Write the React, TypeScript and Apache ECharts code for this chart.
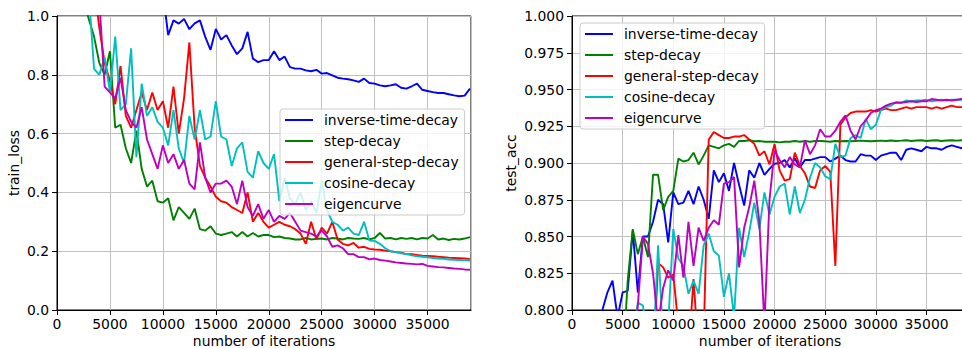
import React, { useEffect, useRef } from 'react';
import * as echarts from 'echarts';

const iterations = [
  2500, 3000, 3500, 4000, 4500, 5000, 5500, 6000, 6500, 7000,
  7500, 8000, 8500, 9000, 9500, 10000, 10500, 11000, 11500, 12000,
  12500, 13000, 13500, 14000, 14500, 15000, 15500, 16000, 16500, 17000,
  17500, 18000, 18500, 19000, 19500, 20000, 20500, 21000, 21500, 22000,
  22500, 23000, 23500, 24000, 24500, 25000, 25500, 26000, 26500, 27000,
  27500, 28000, 28500, 29000, 29500, 30000, 30500, 31000, 31500, 32000,
  32500, 33000, 33500, 34000, 34500, 35000, 35500, 36000, 36500, 37000,
  37500, 38000, 38500, 39000,
];

const seriesNames = ['inverse-time-decay', 'step-decay', 'general-step-decay', 'cosine-decay', 'eigencurve'];
const seriesColors = ['#0000ff', '#008000', '#ff0000', '#00bfbf', '#bf00bf'];

// train_loss
const lossInverseTime = [
  2.0, 1.9, 1.8, 1.7, 1.6, 1.5, 1.45, 1.4, 1.35, 1.3,
  1.25, 1.2, 1.17, 1.14, 1.11, 1.08, 0.935, 0.985, 0.974, 0.99,
  0.955, 0.975, 0.985, 0.929, 0.885, 0.956, 0.92, 0.935, 0.9, 0.87,
  0.89, 0.946, 0.855, 0.843, 0.85, 0.85, 0.88, 0.85, 0.862, 0.826,
  0.821, 0.821, 0.815, 0.812, 0.817, 0.804, 0.806, 0.798, 0.79, 0.787,
  0.785, 0.781, 0.776, 0.787, 0.772, 0.77, 0.764, 0.761, 0.764, 0.768,
  0.756, 0.753, 0.761, 0.77, 0.749, 0.745, 0.741, 0.738, 0.738, 0.734,
  0.73, 0.727, 0.729, 0.753,
];
const lossStep = [
  1.05, 0.99, 0.93, 0.84, 0.8, 0.88, 0.62, 0.63, 0.55, 0.5,
  0.61, 0.48, 0.42, 0.44, 0.37, 0.365, 0.38, 0.305, 0.35, 0.33,
  0.31, 0.345, 0.275, 0.27, 0.285, 0.26, 0.255, 0.26, 0.265, 0.25,
  0.265, 0.25, 0.262, 0.25, 0.255, 0.255, 0.248, 0.25, 0.245, 0.243,
  0.24, 0.24, 0.245, 0.24, 0.242, 0.243, 0.24, 0.245, 0.243, 0.24,
  0.245, 0.243, 0.242, 0.245, 0.24, 0.245, 0.262, 0.243, 0.245, 0.24,
  0.245, 0.242, 0.245, 0.24, 0.245, 0.243, 0.255, 0.24, 0.243, 0.238,
  0.242, 0.24, 0.243, 0.248,
];
const lossGeneralStep = [
  1.4, 1.2, 1.1, 0.96, 0.84, 0.78, 0.7, 0.83, 0.66, 0.62,
  0.68, 0.74, 0.68, 0.74, 0.68, 0.71, 0.62, 0.76, 0.6, 0.72,
  0.91, 0.62, 0.49, 0.45, 0.42, 0.385, 0.37, 0.365, 0.35, 0.34,
  0.33, 0.4, 0.3, 0.33, 0.3, 0.28, 0.29, 0.3, 0.29, 0.285,
  0.275, 0.26, 0.225, 0.3, 0.24, 0.28, 0.26, 0.3, 0.24, 0.225,
  0.22, 0.228, 0.212, 0.215, 0.208, 0.206, 0.205, 0.202, 0.2, 0.197,
  0.195, 0.19, 0.19, 0.187, 0.185, 0.184, 0.183, 0.181, 0.18, 0.178,
  0.177, 0.176, 0.175, 0.173,
];
const lossCosine = [
  1.3, 1.08, 0.82, 0.8, 0.86, 0.74, 0.93, 0.68, 0.7, 0.89,
  0.52, 0.77, 0.66, 0.69, 0.64, 0.62, 0.56, 0.68, 0.55, 0.5,
  0.66, 0.58, 0.68, 0.58, 0.59, 0.71, 0.59, 0.58, 0.49, 0.55,
  0.57, 0.47, 0.45, 0.54, 0.5, 0.48, 0.53, 0.37, 0.45, 0.38,
  0.36, 0.4, 0.34, 0.37, 0.33, 0.44, 0.34, 0.3, 0.29, 0.27,
  0.28, 0.26, 0.255, 0.3, 0.236, 0.235, 0.225, 0.21, 0.2, 0.197,
  0.193, 0.19, 0.186, 0.183, 0.181, 0.179, 0.177, 0.175, 0.174, 0.172,
  0.171, 0.17, 0.169, 0.168,
];
const lossEigen = [
  1.6, 1.4, 1.2, 1.05, 0.76, 0.74, 0.72, 0.79, 0.68, 0.64,
  0.62, 0.69, 0.58, 0.53, 0.48, 0.56, 0.5, 0.53, 0.48, 0.51,
  0.43, 0.41, 0.57, 0.45, 0.4, 0.43, 0.43, 0.44, 0.42, 0.36,
  0.44, 0.35, 0.32, 0.36, 0.31, 0.34, 0.3, 0.32, 0.31, 0.33,
  0.3, 0.27, 0.265, 0.26, 0.25, 0.27, 0.25, 0.215, 0.22, 0.21,
  0.19, 0.19, 0.18, 0.18, 0.172, 0.175, 0.17, 0.168, 0.165, 0.162,
  0.16, 0.158, 0.157, 0.155, 0.157, 0.15, 0.148, 0.146, 0.145, 0.143,
  0.141, 0.14, 0.138, 0.137,
];

// test_acc
const accInverseTime = [
  0.79, 0.8, 0.812, 0.82, 0.795, 0.812, 0.813, 0.854, 0.812, 0.85,
  0.85, 0.86, 0.875, 0.872, 0.846, 0.88, 0.872, 0.873, 0.881, 0.872,
  0.884, 0.875, 0.862, 0.895, 0.887, 0.893, 0.881, 0.9, 0.885, 0.871,
  0.895, 0.89, 0.9, 0.892, 0.896, 0.8995, 0.9, 0.902, 0.897, 0.903,
  0.897, 0.902, 0.902, 0.903, 0.904, 0.904, 0.901, 0.903, 0.905, 0.902,
  0.901, 0.901, 0.906, 0.905, 0.905, 0.902, 0.905, 0.906, 0.907, 0.907,
  0.902, 0.909, 0.91, 0.909, 0.908, 0.911, 0.91, 0.91, 0.909, 0.911,
  0.912, 0.911, 0.91, 0.911,
];
const accStep = [
  0.7, 0.71, 0.72, 0.73, 0.74, 0.76, 0.82, 0.855, 0.838, 0.85,
  0.836, 0.892, 0.892, 0.868, 0.877, 0.881, 0.903, 0.901, 0.902, 0.907,
  0.899, 0.905, 0.912, 0.911, 0.91, 0.912, 0.913, 0.911, 0.915, 0.915,
  0.9155, 0.9148, 0.915, 0.9145, 0.9145, 0.9145, 0.914, 0.9145, 0.9145, 0.915,
  0.9145, 0.915, 0.9145, 0.915, 0.915, 0.9148, 0.9145, 0.915, 0.9148, 0.915,
  0.9148, 0.915, 0.9152, 0.915, 0.9148, 0.915, 0.9152, 0.915, 0.9153, 0.915,
  0.9152, 0.9155, 0.915, 0.9153, 0.9155, 0.915, 0.9153, 0.9155, 0.915, 0.9153,
  0.9155, 0.9152, 0.9155, 0.9152,
];
const accGeneralStep = [
  0.6, 0.62, 0.64, 0.65, 0.66, 0.67, 0.68, 0.69, 0.7, 0.71,
  0.72, 0.76, 0.832, 0.829, 0.822, 0.824, 0.79, 0.75, 0.77, 0.821,
  0.77, 0.78, 0.916, 0.921, 0.919, 0.917, 0.917, 0.918, 0.918, 0.919,
  0.916, 0.913, 0.905, 0.908, 0.899, 0.913, 0.895, 0.888, 0.889, 0.907,
  0.898, 0.893, 0.884, 0.883, 0.895, 0.898, 0.894, 0.83, 0.926, 0.931,
  0.934, 0.935, 0.935, 0.935, 0.936, 0.935, 0.936, 0.937, 0.936, 0.936,
  0.937, 0.938, 0.937, 0.938, 0.938, 0.938, 0.937, 0.938, 0.937, 0.938,
  0.939, 0.938, 0.938, 0.938,
];
const accCosine = [
  0.7, 0.7, 0.71, 0.72, 0.73, 0.74, 0.75, 0.78, 0.805, 0.803,
  0.78, 0.77, 0.844, 0.78, 0.79, 0.855, 0.835, 0.83, 0.811, 0.82,
  0.811, 0.844, 0.852, 0.84, 0.837, 0.809, 0.825, 0.795, 0.856, 0.836,
  0.853, 0.873, 0.855, 0.88, 0.865, 0.877, 0.884, 0.886, 0.865, 0.884,
  0.866, 0.875, 0.89, 0.9, 0.897, 0.891, 0.889, 0.913, 0.904, 0.905,
  0.917, 0.919, 0.917, 0.93, 0.923, 0.926, 0.936, 0.938, 0.939, 0.9415,
  0.941, 0.9425, 0.942, 0.9425, 0.9426, 0.943, 0.942, 0.9425, 0.943, 0.9425,
  0.943, 0.943, 0.943, 0.9428,
];
const accEigen = [
  0.7, 0.7, 0.71, 0.72, 0.73, 0.74, 0.75, 0.77, 0.803, 0.85,
  0.845, 0.825, 0.79, 0.815, 0.827, 0.82, 0.851, 0.822, 0.86, 0.83,
  0.856, 0.847, 0.856, 0.861, 0.858, 0.886, 0.887, 0.8905, 0.829, 0.856,
  0.87, 0.888, 0.86, 0.79, 0.875, 0.9086, 0.902, 0.897, 0.904, 0.899,
  0.897, 0.9155, 0.906, 0.912, 0.923, 0.918, 0.918, 0.922, 0.928, 0.9324,
  0.922, 0.916, 0.925, 0.929, 0.934, 0.936, 0.937, 0.939, 0.9404, 0.941,
  0.941, 0.9415, 0.942, 0.9415, 0.942, 0.942, 0.9435, 0.943, 0.9425, 0.943,
  0.9425, 0.943, 0.9435, 0.943,
];

const lossSeries = [lossInverseTime, lossStep, lossGeneralStep, lossCosine, lossEigen];
const accSeries = [accInverseTime, accStep, accGeneralStep, accCosine, accEigen];

const X_MAX = 39100;
const X_INTERVAL = 5000;
const FONT = 'DejaVu Sans';

export default function App() {
  const ref = useRef<HTMLDivElement>(null);

  useEffect(() => {
    document.documentElement.style.overflow = 'hidden';
    document.body.style.margin = '0';
    document.body.style.overflow = 'hidden';
    if (!ref.current) return;
    const chart = echarts.init(ref.current, undefined, { renderer: 'svg' });

    const textStyle = { fontFamily: FONT, fontSize: 13.9, color: '#000' };
    const splitLine = { show: true, lineStyle: { color: '#c0c0c0', width: 1 } };
    const axisLine = { show: true, lineStyle: { color: '#000', width: 1 } };
    const axisTick = { show: true, inside: false, length: 5, lineStyle: { color: '#000', width: 1 } };

    const makeX = (gridIndex: number) => ({
      type: 'value',
      gridIndex,
      min: 0,
      max: X_MAX,
      interval: X_INTERVAL,
      name: 'number of iterations',
      nameLocation: 'middle',
      nameGap: 25,
      nameMoveOverlap: false,
      nameTextStyle: { ...textStyle, lineHeight: 12 },
      axisLine,
      axisTick,
      splitLine,
      axisLabel: {
        ...textStyle,
        margin: 7,
        lineHeight: 14,
        showMaxLabel: false,
        formatter: (v: number) => (v % X_INTERVAL === 0 ? String(v) : ''),
      },
    });

    const legendIcon = 'path://M0,0H28V2H0Z M34,0L34,2';
    const makeLegend = (left: number, top: number) => ({
      show: true,
      orient: 'vertical',
      left,
      top,
      data: seriesNames,
      icon: legendIcon,
      itemWidth: 34,
      itemHeight: 14,
      itemGap: 7,
      padding: [4, 6, 4, 5],
      selectedMode: false,
      backgroundColor: 'rgba(255,255,255,0.8)',
      borderColor: '#cccccc',
      borderWidth: 1,
      borderRadius: 3,
      textStyle: { ...textStyle, lineHeight: 14 },
    });

    const series: any[] = [];
    seriesNames.forEach((name, k) => {
      series.push({
        name,
        type: 'line',
        xAxisIndex: 0,
        yAxisIndex: 0,
        showSymbol: false,
        symbol: 'none',
        clip: true,
        color: seriesColors[k],
        lineStyle: { width: 1.9, color: seriesColors[k] },
        itemStyle: { color: seriesColors[k] },
        data: iterations.map((x, i) => [x, lossSeries[k][i]]),
      });
    });
    seriesNames.forEach((name, k) => {
      series.push({
        name,
        type: 'line',
        xAxisIndex: 1,
        yAxisIndex: 1,
        showSymbol: false,
        symbol: 'none',
        clip: true,
        color: seriesColors[k],
        lineStyle: { width: 1.9, color: seriesColors[k] },
        itemStyle: { color: seriesColors[k] },
        data: iterations.map((x, i) => [x, accSeries[k][i]]),
      });
    });

    const gridCommon = {
      top: 16,
      height: 294,
      show: true,
      borderColor: '#000',
      borderWidth: 1,
      containLabel: false,
      outerBoundsMode: 'none',
    };

    chart.setOption({
      animation: false,
      backgroundColor: '#ffffff',
      grid: [
        { ...gridCommon, left: 57, width: 414 },
        { ...gridCommon, left: 572, width: 396 },
      ],
      xAxis: [makeX(0), makeX(1)],
      yAxis: [
        {
          type: 'value',
          gridIndex: 0,
          min: 0,
          max: 1,
          interval: 0.2,
          name: 'train_loss',
          nameLocation: 'middle',
          nameGap: 36,
          nameMoveOverlap: false,
          nameTextStyle: { ...textStyle, lineHeight: 14 },
          axisLine,
          axisTick,
          splitLine,
          axisLabel: { ...textStyle, margin: 8, formatter: (v: number) => v.toFixed(1) },
        },
        {
          type: 'value',
          gridIndex: 1,
          min: 0.8,
          max: 1.0,
          interval: 0.025,
          name: 'test_acc',
          nameLocation: 'middle',
          nameGap: 54,
          nameMoveOverlap: false,
          nameTextStyle: { ...textStyle, lineHeight: 14 },
          axisLine,
          axisTick,
          splitLine,
          axisLabel: { ...textStyle, margin: 8, formatter: (v: number) => v.toFixed(3) },
        },
      ],
      legend: [makeLegend(280, 109), makeLegend(580, 23)],
      series,
    });

    return () => chart.dispose();
  }, []);

  return (
    <div
      ref={ref}
      style={{ position: 'absolute', left: 0, top: 0, width: 962, height: 348, overflow: 'hidden' }}
    />
  );
}
